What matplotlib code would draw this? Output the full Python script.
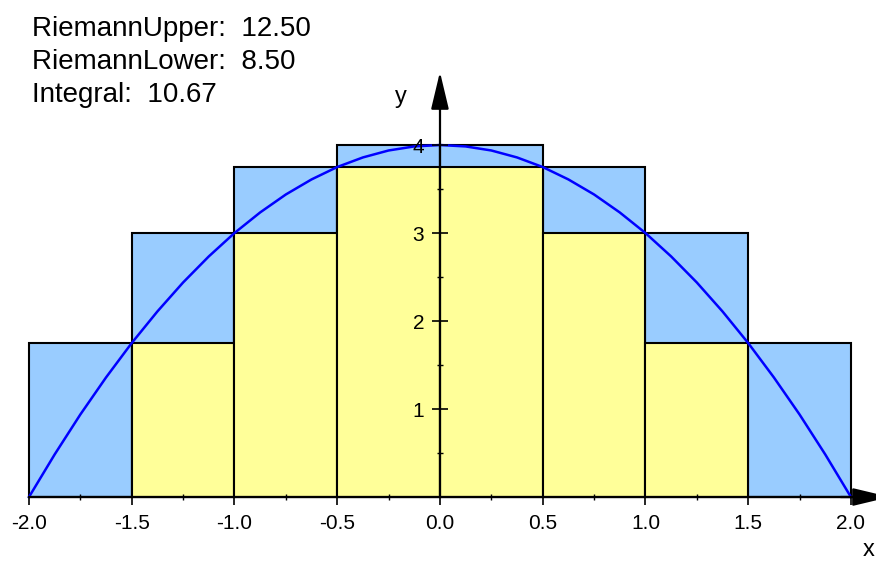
import matplotlib
matplotlib.use('Agg')
import matplotlib.pyplot as plt

plt.rcParams['font.family'] = ['Liberation Sans', 'DejaVu Sans']

# subinterval left edges and heights
x_left = [-2.0, -1.5, -1.0, -0.5, 0.0, 0.5, 1.0, 1.5]
upper = [1.75, 3.0, 3.75, 4.0, 4.0, 3.75, 3.0, 1.75]
lower = [0.0, 1.75, 3.0, 3.75, 3.75, 3.0, 1.75, 0.0]
dx = 0.5

curve_x = [-2.0, -1.875, -1.75, -1.625, -1.5, -1.375, -1.25, -1.125, -1.0,
           -0.875, -0.75, -0.625, -0.5, -0.375, -0.25, -0.125, 0.0,
           0.125, 0.25, 0.375, 0.5, 0.625, 0.75, 0.875, 1.0,
           1.125, 1.25, 1.375, 1.5, 1.625, 1.75, 1.875, 2.0]
curve_y = [0.0, 0.484, 0.938, 1.359, 1.75, 2.109, 2.438, 2.734, 3.0,
           3.234, 3.438, 3.609, 3.75, 3.859, 3.938, 3.984, 4.0,
           3.984, 3.938, 3.859, 3.75, 3.609, 3.438, 3.234, 3.0,
           2.734, 2.438, 2.109, 1.75, 1.359, 0.938, 0.484, 0.0]

x_ticks = [-2.0, -1.5, -1.0, -0.5, 0.0, 0.5, 1.0, 1.5, 2.0]
y_ticks = [1, 2, 3, 4]

riemann_upper = 12.50
riemann_lower = 8.50
integral = 10.67

W, H = 876, 561
fig = plt.figure(figsize=(W / 100, H / 100), dpi=100)
ax = fig.add_axes([0, 0, 1, 1])

# pixel mapping: x=-2 -> 29px, x=2 -> 851px; y=0 -> 497px, y=4 -> 145px
ax.set_xlim(-2.141, 2.122)
ax.set_ylim(-0.727, 5.648)

ax.bar(x_left, upper, width=dx, align='edge', color='#99ccff',
       edgecolor='black', linewidth=1.5, zorder=2)
ax.bar(x_left, lower, width=dx, align='edge', color='#ffff99',
       edgecolor='black', linewidth=1.5, zorder=3)
ax.plot(curve_x, curve_y, color='#0000ff', linewidth=1.8, zorder=4)

# axes through the origin
for s in ['top', 'right']:
    ax.spines[s].set_visible(False)
ax.spines['left'].set_position(('data', 0))
ax.spines['bottom'].set_position(('data', 0))
ax.spines['left'].set_bounds(0, 4.7)
ax.spines['bottom'].set_bounds(-2.0, 2.06)
for s in ['left', 'bottom']:
    ax.spines[s].set_linewidth(1.6)
    ax.spines[s].set_zorder(5)
ax.xaxis.set_zorder(6)
ax.yaxis.set_zorder(6)

# arrow heads
head = '-|>,head_width=0.55,head_length=2.3'
ax.annotate('', xy=(0, 4.83), xytext=(0, 4.4),
            arrowprops=dict(arrowstyle=head, color='black', lw=1.6,
                            shrinkA=0, shrinkB=0), zorder=7)
ax.annotate('', xy=(2.19, 0), xytext=(1.95, 0),
            arrowprops=dict(arrowstyle=head, color='black', lw=1.6,
                            shrinkA=0, shrinkB=0), zorder=7,
            annotation_clip=False)

ax.set_xticks(x_ticks)
ax.set_xticklabels(['%.1f' % v for v in x_ticks])
ax.set_yticks(y_ticks)
ax.set_yticklabels([str(v) for v in y_ticks])
ax.set_xticks([-1.75, -1.25, -0.75, -0.25, 0.25, 0.75, 1.25, 1.75], minor=True)
ax.set_yticks([0.5, 1.5, 2.5, 3.5], minor=True)
ax.tick_params(axis='x', which='major', direction='out', length=6, width=1.2,
               labelsize=15, pad=6)
ax.tick_params(axis='x', which='minor', direction='inout', length=5, width=1.0)
ax.tick_params(axis='y', which='major', direction='inout', length=11.5,
               width=1.2, labelsize=15, pad=5.5)
ax.tick_params(axis='y', which='minor', direction='inout', length=5, width=1.0)

ax.text(401 / W, 1 - 103 / H, 'y', transform=fig.transFigure, fontsize=17,
        ha='center', va='baseline')
ax.text(875 / W, 1 - 556 / H, 'x', transform=fig.transFigure, fontsize=17,
        ha='right', va='baseline')

fig.text(32 / W, 1 - 36 / H, 'RiemannUpper:  %.2f' % riemann_upper,
         fontsize=20, va='baseline', ha='left')
fig.text(32 / W, 1 - 69 / H, 'RiemannLower:  %.2f' % riemann_lower,
         fontsize=20, va='baseline', ha='left')
fig.text(32 / W, 1 - 102 / H, 'Integral:  %.2f' % integral,
         fontsize=20, va='baseline', ha='left')

fig.savefig('out.png', dpi=100)
